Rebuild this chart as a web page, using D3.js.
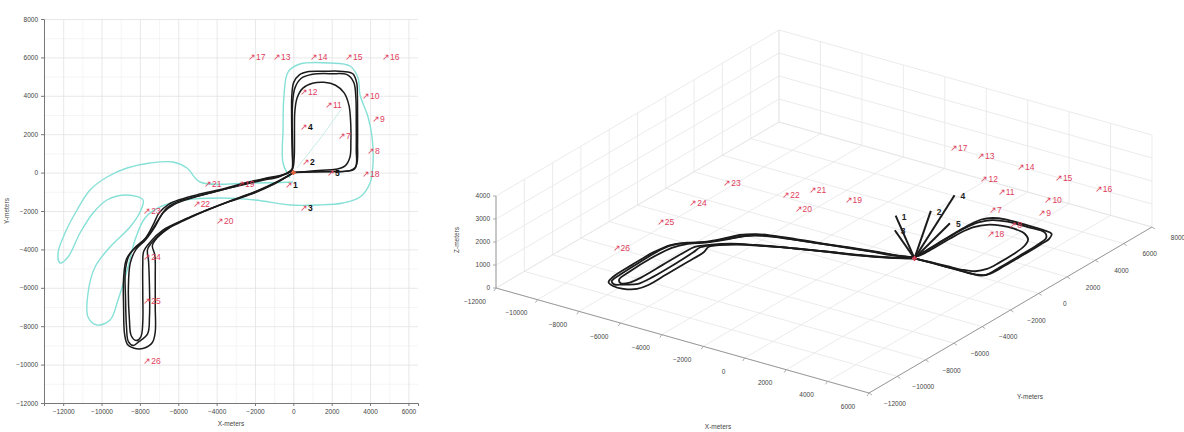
<!DOCTYPE html>
<html><head><meta charset="utf-8">
<script src="https://cdn.jsdelivr.net/npm/d3@7"></script>
<style>
body{margin:0;background:#fff}
svg{display:block}
text{font-family:"Liberation Sans",Arial,sans-serif}
</style>
</head><body>
<svg id="chart" width="1184" height="432"></svg>
<script>
// ---- tick values (metres) ----
const xTicks = [-12000,-10000,-8000,-6000,-4000,-2000,0,2000,4000,6000];
const yTicks = [-12000,-10000,-8000,-6000,-4000,-2000,0,2000,4000,6000,8000];
const zTicks = [0,1000,2000,3000,4000];

// ---- recorded laps [x, y] in metres ----
const lapOuter = [[0,0],[800,40],[1800,60],[2700,70],[3150,150],[3320,500],[3350,1500],[3350,2800],[3340,4000],[3300,4700],[3100,5150],[2600,5270],[1600,5280],[800,5260],[300,5080],[20,4700],[-80,4000],[-90,3000],[-80,2000],[-60,1000],[-40,400],[-100,80],
  [-600,-120],[-1500,-300],[-2600,-560],[-3800,-880],[-5000,-1150],[-5900,-1400],[-6500,-1650],[-7000,-2100],[-7300,-2700],[-7700,-3400],[-8300,-3950],[-8700,-4500],[-8850,-5500],[-8850,-7000],[-8800,-8400],[-8650,-8950],[-8300,-9150],[-7800,-9150],[-7350,-8850],[-7200,-8300],[-7200,-7000],[-7200,-5500],[-7220,-4300],[-7350,-3800],[-7100,-3400],[-6500,-2900],[-5600,-2400],[-4400,-1900],[-3100,-1400],[-1900,-950],[-900,-500],[-250,-150],[0,0]];
const lapInner = [[0,0],[700,60],[1500,120],[2200,170],[2700,350],[2950,800],[3000,1600],[2990,2600],[2900,3500],[2650,4150],[2200,4550],[1600,4700],[1000,4650],[500,4400],[200,3900],[80,3200],[60,2400],[60,1500],[40,700],[-50,200],
  [-700,-200],[-1700,-420],[-2900,-700],[-4100,-1000],[-5200,-1300],[-6200,-1650],[-6800,-2100],[-7200,-2800],[-7700,-3500],[-8200,-4000],[-8500,-4700],[-8600,-6000],[-8550,-7600],[-8450,-8500],[-8200,-8750],[-7950,-8550],[-7850,-7800],[-7850,-6300],[-7850,-4800],[-7800,-4100],[-7450,-3600],[-6800,-3000],[-5800,-2500],[-4600,-2000],[-3300,-1500],[-2000,-1050],[-1000,-600],[-300,-200],[0,0]];
const lapMiddle = [[0,0],[900,30],[2000,50],[2900,90],[3250,300],[3280,1200],[3280,2600],[3260,3900],[3150,4700],[2800,5100],[2000,5150],[1000,5120],[400,4900],[80,4400],[-40,3600],[-60,2600],[-40,1500],[-20,600],[-80,100],
  [-650,-160],[-1600,-360],[-2700,-630],[-3900,-950],[-5100,-1250],[-6000,-1500],[-6600,-1850],[-7000,-2400],[-7450,-3100],[-7900,-3650],[-8500,-4200],[-8750,-5000],[-8750,-6500],[-8700,-8000],[-8600,-8800],[-8350,-9000],[-8050,-8800],[-7600,-8400],[-7500,-7500],[-7500,-6000],[-7550,-4600],[-7600,-4000],[-7300,-3550],[-6700,-3000],[-5700,-2500],[-4500,-1950],[-3200,-1450],[-1950,-1000],[-950,-550],[-280,-180],[0,0]];

// ---- reference track (cyan) ----
const cyanTrack = [[-16,-490],[-2258,-542],[-4865,-490],[-5543,240],[-6273,552],[-7472,500],[-8671,240],[-9714,-229],[-10600,-906],[-11278,-1948],[-11904,-3146],[-12269,-4187],[-12165,-4708],[-11748,-4396],[-11122,-3146],[-10444,-2104],[-9714,-1427],[-8671,-1167],[-7837,-1427],[-7993,-2052],[-8515,-2833],[-9557,-3875],[-10339,-4916],[-10704,-6270],[-10704,-7520],[-10235,-7937],[-9557,-7676],[-9140,-6635],[-8619,-4916],[-8254,-3510],[-7733,-2364],[-6951,-1791],[-5647,-1427],[-3822,-1323],[-1997,-1427],[-172,-1687],[1236,-1687],[2591,-1583],[3478,-1271],[4000,-542],[4156,500],[4104,1854],[3895,2895],[3478,4041],[3374,4927],[2957,5552],[1914,5708],[349,5656],[-276,5239],[-485,4041],[-537,2218],[-537,500],[-172,-281]];
const cyanSpur = [[200,250],[1500,1900],[2500,3300]];

// ---- waypoints (red), drawn at 2000 m altitude in 3-D ----
const waypointNames = ["7","8","9","10","11","12","13","14","15","16","17","18","19","20","21","22","23","24","25","26"];
const waypointX = [2330,3840,4100,3580,1650,350,-1060,870,2700,4620,-2360,3580,-2935,-4030,-4656,-5250,-7830,-7830,-7830,-7830];
const waypointY = [1850,1070,2740,3940,3470,4150,5970,5970,5970,5970,5970,-130,-646,-2573,-646,-1650,-2052,-4448,-6740,-9865];
const waypointZ = 2000;

// ---- launch vectors (black) ----
const vectorNames = ["1","2","3","4","5"];
const vectorX = [-430,450,350,350,1760];
const vectorY = [-700,500,-1900,2320,-70];
const vectorZ = [2000,2000,2000,2000,2000];

const labelRed = "#e0405c";
const svg = d3.select("#chart");
const fmt = d3.format("d");

// =================== 2-D plan view ===================
const x2 = d3.scaleLinear().domain([-13000, 6500]).range([44, 418]);
const y2 = d3.scaleLinear().domain([-12000, 8000]).range([403, 19]);
const plan = svg.append("g");

const xMinor = d3.range(-13000, 6501, 1000).filter(v => v % 2000 !== 0);
const yMinor = d3.range(-11000, 8000, 2000);

function grid(g, axis, color) {
  g.call(axis);
  g.select(".domain").remove();
  g.selectAll("line").attr("stroke", color).attr("stroke-width", 0.8);
}
grid(plan.append("g").attr("transform", "translate(0,403)"),
  d3.axisBottom(x2).tickValues(xMinor).tickSize(-384).tickFormat(""), "#f2f2f2");
grid(plan.append("g").attr("transform", "translate(44,0)"),
  d3.axisLeft(y2).tickValues(yMinor).tickSize(-374).tickFormat(""), "#f2f2f2");
grid(plan.append("g").attr("transform", "translate(0,403)"),
  d3.axisBottom(x2).tickValues(xTicks).tickSize(-384).tickFormat(""), "#e2e2e2");
grid(plan.append("g").attr("transform", "translate(44,0)"),
  d3.axisLeft(y2).tickValues(yTicks).tickSize(-374).tickFormat(""), "#e2e2e2");

const xAx = plan.append("g").attr("transform", "translate(0,403)")
  .call(d3.axisBottom(x2).tickValues(xTicks).tickSize(3).tickFormat(fmt));
const yAx = plan.append("g").attr("transform", "translate(44,0)")
  .call(d3.axisLeft(y2).tickValues(yTicks).tickSize(3).tickFormat(fmt));
[xAx, yAx].forEach(a => {
  a.select(".domain").attr("stroke", "#777");
  a.selectAll(".tick line").attr("stroke", "#777");
  a.selectAll("text").attr("font-size", 6.5).attr("fill", "#444");
});
plan.append("text").attr("x", 231).attr("y", 426).attr("text-anchor", "middle")
  .attr("font-size", 6.5).attr("fill", "#444").text("X-meters");
plan.append("text").attr("transform", "translate(9,211) rotate(-90)").attr("text-anchor", "middle")
  .attr("font-size", 6.5).attr("fill", "#444").text("Y-meters");

const clip = svg.append("clipPath").attr("id", "planClip")
  .append("rect").attr("x", 44).attr("y", 19).attr("width", 374).attr("height", 384);
const pd = plan.append("g").attr("clip-path", "url(#planClip)");

const line2 = d3.line().x(d => x2(d[0])).y(d => y2(d[1])).curve(d3.curveCatmullRom.alpha(0.5));
pd.append("path").attr("d", line2(cyanTrack)).attr("fill", "none").attr("stroke", "#86e0d7").attr("stroke-width", 1.4);
pd.append("path").attr("d", d3.line().x(d => x2(d[0])).y(d => y2(d[1]))(cyanSpur))
  .attr("fill", "none").attr("stroke", "#c8ece8").attr("stroke-width", 1);
[lapOuter, lapMiddle, lapInner].forEach(lap => {
  pd.append("path").attr("d", line2(lap)).attr("fill", "none").attr("stroke", "#1b1b1b")
    .attr("stroke-width", 1.5).attr("stroke-linejoin", "round");
});
pd.append("path").attr("d", d3.symbol(d3.symbolCross, 14)())
  .attr("transform", `translate(${x2(0)},${y2(0)})`).attr("fill", "#e8603c");

waypointNames.forEach((n, i) => {
  plan.append("text").attr("x", x2(waypointX[i])).attr("y", y2(waypointY[i]))
    .attr("dominant-baseline", "middle").attr("font-size", 8.5).attr("fill", labelRed)
    .text("\u2197" + n);
});
vectorNames.forEach((n, i) => {
  const t = plan.append("text").attr("x", x2(vectorX[i])).attr("y", y2(vectorY[i]))
    .attr("dominant-baseline", "middle").attr("font-size", 8.5);
  t.append("tspan").attr("fill", labelRed).text("\u2197");
  t.append("tspan").attr("fill", "#111").attr("font-weight", "bold").text(n);
});

// =================== 3-D view ===================
const xMin = -12000, xMax = 6000, yMin = -12000, yMax = 8000, zMin = 0, zMax = 4000;
const fx = d3.scaleLinear().domain([xMin, xMax]).range([0, 1]);
const fy = d3.scaleLinear().domain([yMin, yMax]).range([0, 1]);
const fz = d3.scaleLinear().domain([zMin, zMax]).range([0, 1]);
const O = [496, 288], EX = [373, 105], EY = [283, -166], EZ = [0, -92];
function P(x, y, z) {
  const a = fx(x), b = fy(y), c = fz(z);
  return [O[0] + a * EX[0] + b * EY[0] + c * EZ[0], O[1] + a * EX[1] + b * EY[1] + c * EZ[1]];
}
const view = svg.append("g");
function seg(p, q, color, w) {
  view.append("line").attr("x1", p[0]).attr("y1", p[1]).attr("x2", q[0]).attr("y2", q[1])
    .attr("stroke", color).attr("stroke-width", w);
}
const gridCol = "#e6e6e6";
// floor
xTicks.forEach(v => seg(P(v, yMin, 0), P(v, yMax, 0), gridCol, 0.8));
yTicks.forEach(v => seg(P(xMin, v, 0), P(xMax, v, 0), gridCol, 0.8));
// wall x = xMin
yTicks.forEach(v => seg(P(xMin, v, zMin), P(xMin, v, zMax), gridCol, 0.8));
zTicks.forEach(v => seg(P(xMin, yMin, v), P(xMin, yMax, v), gridCol, 0.8));
// wall y = yMax
xTicks.forEach(v => seg(P(v, yMax, zMin), P(v, yMax, zMax), gridCol, 0.8));
zTicks.forEach(v => seg(P(xMin, yMax, v), P(xMax, yMax, v), gridCol, 0.8));

// axis lines + ticks
const axCol = "#9a9a9a";
seg(P(xMin, yMin, 0), P(xMax, yMin, 0), axCol, 1);
seg(P(xMax, yMin, 0), P(xMax, yMax, 0), axCol, 1);
seg(P(xMin, yMin, 0), P(xMin, yMin, zMax), axCol, 1);
xTicks.forEach(v => {
  const p = P(v, yMin, 0);
  seg(p, [p[0] - 2, p[1] + 3], axCol, 0.8);
  view.append("text").attr("x", p[0] - 21).attr("y", p[1] + 14).attr("text-anchor", "middle")
    .attr("dominant-baseline", "middle").attr("font-size", 6.5).attr("fill", "#444").text(fmt(v));
});
yTicks.forEach(v => {
  const p = P(xMax, v, 0);
  seg(p, [p[0] + 3, p[1] + 2], axCol, 0.8);
  view.append("text").attr("x", p[0] + 26).attr("y", p[1] + 11).attr("text-anchor", "middle")
    .attr("dominant-baseline", "middle").attr("font-size", 6.5).attr("fill", "#444").text(fmt(v));
});
zTicks.forEach(v => {
  const p = P(xMin, yMin, v);
  seg(p, [p[0] - 3, p[1]], axCol, 0.8);
  view.append("text").attr("x", p[0] - 6).attr("y", p[1]).attr("text-anchor", "end")
    .attr("dominant-baseline", "middle").attr("font-size", 6.5).attr("fill", "#444").text(fmt(v));
});
view.append("text").attr("x", 718).attr("y", 429).attr("text-anchor", "middle")
  .attr("font-size", 6.5).attr("fill", "#444").text("X-meters");
view.append("text").attr("x", 1030).attr("y", 399).attr("text-anchor", "middle")
  .attr("font-size", 6.5).attr("fill", "#444").text("Y-meters");
view.append("text").attr("transform", "translate(459,240) rotate(-90)").attr("text-anchor", "middle")
  .attr("font-size", 6.5).attr("fill", "#444").text("Z-meters");

// laps on the ground
const line3 = d3.line().x(d => P(d[0], d[1], 0)[0]).y(d => P(d[0], d[1], 0)[1])
  .curve(d3.curveCatmullRom.alpha(0.5));
[lapOuter, lapMiddle, lapInner].forEach(lap => {
  view.append("path").attr("d", line3(lap)).attr("fill", "none").attr("stroke", "#1b1b1b")
    .attr("stroke-width", 1.8).attr("stroke-linejoin", "round");
});

// launch vectors
const o3 = P(0, 0, 0);
vectorNames.forEach((n, i) => {
  const e = P(vectorX[i], vectorY[i], vectorZ[i]);
  seg(o3, e, "#1b1b1b", 2);
  view.append("text").attr("x", e[0] + 6).attr("y", e[1] + 2).attr("dominant-baseline", "middle")
    .attr("font-size", 8.5).attr("font-weight", "bold").attr("fill", "#222").text(n);
});
view.append("path").attr("d", d3.symbol(d3.symbolCross, 14)())
  .attr("transform", `translate(${o3[0]},${o3[1]})`).attr("fill", "#e0405c");

// waypoint labels
waypointNames.forEach((n, i) => {
  const p = P(waypointX[i], waypointY[i], waypointZ);
  view.append("text").attr("x", p[0]).attr("y", p[1]).attr("dominant-baseline", "middle")
    .attr("font-size", 8.5).attr("fill", labelRed).text("\u2197" + n);
});
</script>
</body></html>
